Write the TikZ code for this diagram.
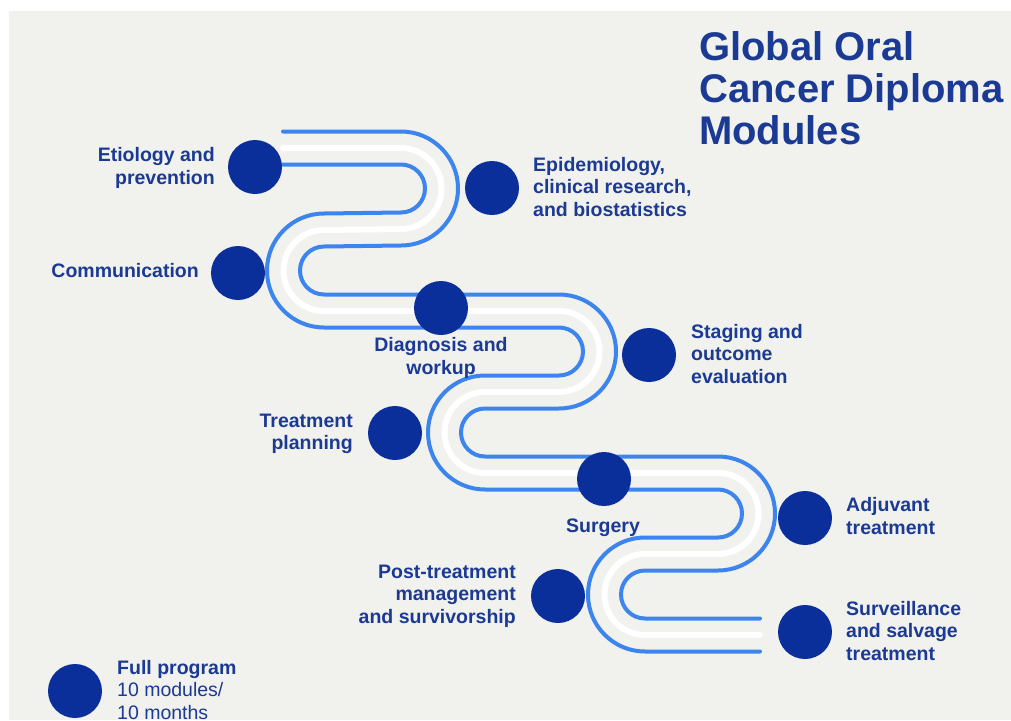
\documentclass[tikz,border=0pt]{standalone}
\usepackage{fontspec}
\setmainfont{Liberation Sans}
\definecolor{bgc}{HTML}{F1F1EE}
\definecolor{dotc}{HTML}{0A2F9A}
\definecolor{txtc}{HTML}{1B3A94}
\definecolor{roadc}{HTML}{3D85EE}
\newcommand\roadpath[1]{(283,{148+(#1)}) -- (401,{148+(#1)})
  arc[start angle=-90,end angle=90,radius={40.5-(#1)}] -- (324,{230-(#1)})
  arc[start angle=-90,end angle=-270,radius={40.5+(#1)}] -- (559,{311+(#1)})
  arc[start angle=-90,end angle=90,radius={40.5-(#1)}] -- (485,{392-(#1)})
  arc[start angle=-90,end angle=-270,radius={40.5+(#1)}] -- (718,{473+(#1)})
  arc[start angle=-90,end angle=90,radius={40.5-(#1)}] -- (645,{554-(#1)})
  arc[start angle=-90,end angle=-270,radius={40.5+(#1)}] -- (760,{635+(#1)})}
\tikzset{
  dot/.style={circle,fill=dotc,draw=none,minimum size=54pt,inner sep=0pt},
  lbl/.style={text=txtc,font=\fontsize{19.5}{22.5}\selectfont\bfseries,inner sep=0pt},
  bluel/.style={draw=roadc,line width=4pt,line cap=round},
  whitel/.style={draw=white,line width=6pt,line cap=round}
}
\begin{document}
\begin{tikzpicture}[x=1pt,y=-1pt]
\useasboundingbox (0,0) rectangle (1011,720);
\fill[white] (0,0) rectangle (1011,720);
\fill[bgc] (9,11) rectangle (1011,720);
% road
\draw[bluel] \roadpath{-16.5};
\draw[whitel] \roadpath{0};
\draw[bluel] \roadpath{16.5};
% circles
\node[dot] (d1) at (255,167) {};
\node[dot] (d2) at (492,188) {};
\node[dot] (d3) at (238,273) {};
\node[dot] (d4) at (441,308) {};
\node[dot] (d5) at (649,355) {};
\node[dot] (d6) at (395,433) {};
\node[dot] (d7) at (604,479) {};
\node[dot] (d8) at (805,518) {};
\node[dot] (d9) at (558,596) {};
\node[dot] (d10) at (805,632) {};
\node[dot] (d11) at (75,691) {};
% labels
\node[lbl,anchor=east,align=right] (t1) at (215,168) {Etiology and\\prevention};
\node[lbl,anchor=west,align=left] (t2) at (533,187) {Epidemiology,\\clinical research,\\and biostatistics};
\node[lbl,anchor=east,align=right] (t3) at (199,271) {Communication};
\node[lbl,align=center] (t4) at (441,358) {Diagnosis and\\workup};
\node[lbl,anchor=west,align=left] (t5) at (691,354) {Staging and\\outcome\\evaluation};
\node[lbl,anchor=east,align=right] (t6) at (353,434) {Treatment\\planning};
\node[lbl] (t7) at (603,528) {Surgery};
\node[lbl,anchor=west,align=left] (t8) at (846,516) {Adjuvant\\treatment};
\node[lbl,anchor=east,align=right] (t9) at (516,596) {Post-treatment\\management\\and survivorship};
\node[lbl,anchor=west,align=left] (t10) at (846,631) {Surveillance\\and salvage\\treatment};
\node[lbl,anchor=west,align=left] (t11) at (117,690) {Full program\\\mdseries 10 modules/\\\mdseries 10 months};
\node[text=txtc,font=\fontsize{40}{42}\selectfont\bfseries,inner sep=0pt,anchor=west,align=left] (title) at (699,88) {Global Oral\\Cancer Diploma\\Modules};
\end{tikzpicture}
\end{document}
